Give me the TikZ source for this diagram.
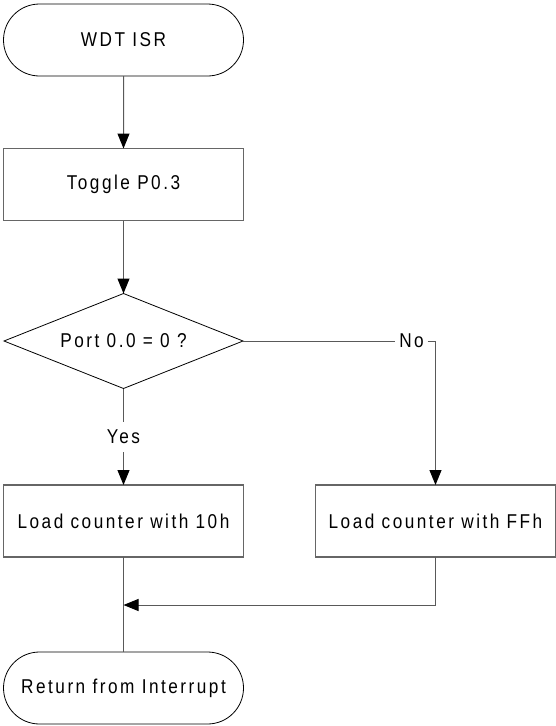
\documentclass[tikz,border=0pt]{standalone}
\usepackage{fontspec}
\setmainfont{Liberation Sans}[FakeStretch=0.86,LetterSpace=12.5]
\usetikzlibrary{arrows.meta,shapes.geometric,shapes.misc}
\begin{document}
\begin{tikzpicture}[x=1pt,y=-1pt,
  every node/.style={font=\fontsize{20}{24}\selectfont, outer sep=0pt},
  term/.style={draw=black, line width=0.8pt, rounded rectangle, minimum width=240pt, minimum height=72pt, inner sep=0pt},
  proc/.style={draw=black!60, line width=1.2pt, rectangle, minimum width=240pt, minimum height=72pt, inner sep=0pt},
  decis/.style={draw=black, line width=0.8pt, diamond, aspect=2.5, minimum width=239pt, minimum height=95pt, inner sep=0pt},
  lbl/.style={inner xsep=4pt, inner ysep=0pt, minimum height=30pt},
  conn/.style={draw=black!65, line width=1pt},
  arr/.style={conn, -{Triangle[length=15pt,width=12pt,fill=black,color=black]}}
]
\useasboundingbox (0,0) rectangle (556,726);
\node[term] (start) at (123.5,40) {WDT ISR};
\node[proc] (toggle) at (123.5,184.5) {Toggle P0.3};
\node[decis] (dec) at (123.5,341) {Port 0.0 = 0 ?};
\node[proc] (lbox) at (123.5,521) {Load counter with 10h};
\node[proc] (rbox) at (435.5,521) {Load counter with FFh};
\node[term] (ret) at (123.5,688) {Return from Interrupt};
\node[lbl] (yes) at (123.5,437) {Yes};
\node[lbl] (no) at (411.5,341) {No};
\coordinate (merge) at (123.5,605);

\draw[arr] (start) -- (toggle);
\draw[arr] (toggle) -- (dec);
\draw[conn] (dec.south) -- (yes.north);
\draw[arr] (yes.south) -- (lbox.north);
\draw[conn] (dec.east) -- (no.west);
\draw[arr] (no.east) -| (rbox.north);
\draw[conn] (lbox.south) -- (ret.north);
\draw[arr] (rbox.south) |- (merge);
\end{tikzpicture}
\end{document}
